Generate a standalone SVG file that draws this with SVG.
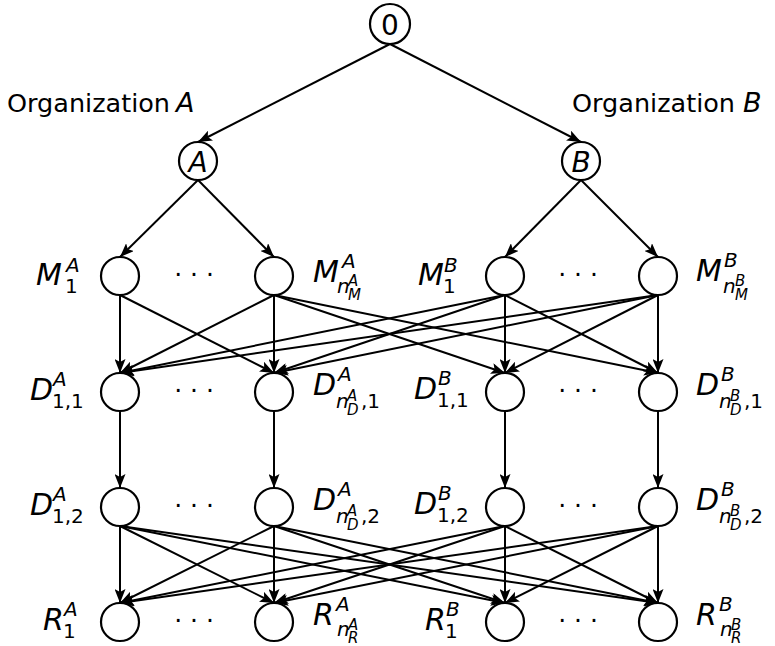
<svg xmlns="http://www.w3.org/2000/svg" width="775" height="646" viewBox="0 0 775 646">
<defs>
<style>
.lab{font-family:"DejaVu Sans","Liberation Sans",sans-serif;fill:#000}
.it{font-style:italic}
.b{font-size:30px}
.s{font-size:20px}
.ss{font-size:15px}
.org{font-size:25.5px}
.dots{font-size:25px;text-anchor:middle}
.nd{fill:#fff;stroke:#000;stroke-width:2.2}
.ed{stroke:#000;stroke-width:2;fill:none;marker-end:url(#ah)}
</style>
<marker id="ah" markerUnits="userSpaceOnUse" viewBox="0 0 14 11" markerWidth="14" markerHeight="11" refX="14" refY="5.5" orient="auto">
<path d="M0,0 L14,5.5 L0,11 L3,5.5 Z" fill="#000"/>
</marker>
</defs>
<rect width="775" height="646" fill="#fff"/>

<g id="connectors">
<line class="ed" x1="390" y1="44" x2="198" y2="142"/>
<line class="ed" x1="390" y1="44" x2="581" y2="142"/>
<line class="ed" x1="198" y1="180" x2="120" y2="257"/>
<line class="ed" x1="198" y1="180" x2="274" y2="257"/>
<line class="ed" x1="581" y1="180" x2="505" y2="257"/>
<line class="ed" x1="581" y1="180" x2="658" y2="257"/>

<line class="ed" x1="120" y1="295" x2="120" y2="373"/>
<line class="ed" x1="120" y1="295" x2="274" y2="373"/>
<line class="ed" x1="274" y1="295" x2="120" y2="373"/>
<line class="ed" x1="274" y1="295" x2="274" y2="373"/>
<line class="ed" x1="274" y1="295" x2="505" y2="373"/>
<line class="ed" x1="274" y1="295" x2="658" y2="373"/>
<line class="ed" x1="505" y1="295" x2="120" y2="373"/>
<line class="ed" x1="505" y1="295" x2="274" y2="373"/>
<line class="ed" x1="505" y1="295" x2="505" y2="373"/>
<line class="ed" x1="505" y1="295" x2="658" y2="373"/>
<line class="ed" x1="658" y1="295" x2="120" y2="373"/>
<line class="ed" x1="658" y1="295" x2="274" y2="373"/>
<line class="ed" x1="658" y1="295" x2="505" y2="373"/>
<line class="ed" x1="658" y1="295" x2="658" y2="373"/>

<line class="ed" x1="120" y1="411" x2="120" y2="488"/>
<line class="ed" x1="274" y1="411" x2="274" y2="488"/>
<line class="ed" x1="505" y1="411" x2="505" y2="488"/>
<line class="ed" x1="658" y1="411" x2="658" y2="488"/>

<line class="ed" x1="120" y1="526" x2="120" y2="603"/>
<line class="ed" x1="120" y1="526" x2="274" y2="603"/>
<line class="ed" x1="120" y1="526" x2="505" y2="603"/>
<line class="ed" x1="120" y1="526" x2="658" y2="603"/>
<line class="ed" x1="274" y1="526" x2="120" y2="603"/>
<line class="ed" x1="274" y1="526" x2="274" y2="603"/>
<line class="ed" x1="274" y1="526" x2="505" y2="603"/>
<line class="ed" x1="274" y1="526" x2="658" y2="603"/>
<line class="ed" x1="505" y1="526" x2="120" y2="603"/>
<line class="ed" x1="505" y1="526" x2="274" y2="603"/>
<line class="ed" x1="505" y1="526" x2="505" y2="603"/>
<line class="ed" x1="505" y1="526" x2="658" y2="603"/>
<line class="ed" x1="658" y1="526" x2="120" y2="603"/>
<line class="ed" x1="658" y1="526" x2="274" y2="603"/>
<line class="ed" x1="658" y1="526" x2="505" y2="603"/>
<line class="ed" x1="658" y1="526" x2="658" y2="603"/>
</g>

<g id="labels">
<text class="lab org" x="7" y="112">Organization <tspan class="it" x="176" style="font-size:27px">A</tspan></text>
<text class="lab org" x="572" y="112">Organization <tspan class="it" x="743" style="font-size:27px">B</tspan></text>
<text class="lab dots" x="194" y="283">· · ·</text>
<text class="lab dots" x="578" y="283">· · ·</text>
<text class="lab dots" x="194" y="399">· · ·</text>
<text class="lab dots" x="578" y="399">· · ·</text>
<text class="lab dots" x="194" y="514">· · ·</text>
<text class="lab dots" x="578" y="514">· · ·</text>
<text class="lab dots" x="194" y="629">· · ·</text>
<text class="lab dots" x="578" y="629">· · ·</text>
</g>

<g id="n0"><circle class="nd" cx="390" cy="24" r="20"/><text class="lab b" x="390" y="35" text-anchor="middle" style="font-size:28px">0</text></g>
<g id="nA"><circle class="nd" cx="198" cy="161" r="19"/><text class="lab b it" x="198" y="172" text-anchor="middle" style="font-size:28px">A</text></g>
<g id="nB"><circle class="nd" cx="581" cy="161" r="19"/><text class="lab b it" x="581" y="172" text-anchor="middle" style="font-size:28px">B</text></g>

<g id="M1A"><circle class="nd" cx="120" cy="276" r="19"/>
<text class="lab"><tspan class="it b" x="36" y="285">M</tspan><tspan class="it s" x="66" y="272">A</tspan><tspan class="s" x="65" y="293">1</tspan></text></g>
<g id="MnA"><circle class="nd" cx="274" cy="276" r="19"/>
<text class="lab"><tspan class="it b" x="313" y="282">M</tspan><tspan class="it s" x="342" y="268">A</tspan><tspan class="it s" x="337" y="293">n</tspan><tspan class="it ss" x="348" y="286">A</tspan><tspan class="it ss" x="348" y="300">M</tspan></text></g>
<g id="M1B"><circle class="nd" cx="505" cy="276" r="19"/>
<text class="lab"><tspan class="it b" x="418" y="285">M</tspan><tspan class="it s" x="444" y="272">B</tspan><tspan class="s" x="443" y="293">1</tspan></text></g>
<g id="MnB"><circle class="nd" cx="658" cy="276" r="19"/>
<text class="lab"><tspan class="it b" x="696" y="281">M</tspan><tspan class="it s" x="724" y="267">B</tspan><tspan class="it s" x="723" y="293">n</tspan><tspan class="it ss" x="735" y="286">B</tspan><tspan class="it ss" x="735" y="300">M</tspan></text></g>

<g id="D11A"><circle class="nd" cx="120" cy="392" r="19"/>
<text class="lab"><tspan class="it b" x="30" y="400">D</tspan><tspan class="it s" x="53" y="386">A</tspan><tspan class="s" x="52" y="408">1,1</tspan></text></g>
<g id="DnA1"><circle class="nd" cx="274" cy="392" r="19"/>
<text class="lab"><tspan class="it b" x="313" y="395">D</tspan><tspan class="it s" x="338" y="381">A</tspan><tspan class="it s" x="336" y="408">n</tspan><tspan class="it ss" x="347" y="401">A</tspan><tspan class="it ss" x="347" y="415">D</tspan><tspan class="s" x="361" y="408">,1</tspan></text></g>
<g id="D11B"><circle class="nd" cx="505" cy="392" r="19"/>
<text class="lab"><tspan class="it b" x="414" y="399">D</tspan><tspan class="it s" x="438" y="385">B</tspan><tspan class="s" x="437" y="407">1,1</tspan></text></g>
<g id="DnB1"><circle class="nd" cx="658" cy="392" r="19"/>
<text class="lab"><tspan class="it b" x="696" y="395">D</tspan><tspan class="it s" x="721" y="381">B</tspan><tspan class="it s" x="719" y="408">n</tspan><tspan class="it ss" x="730" y="401">B</tspan><tspan class="it ss" x="730" y="415">D</tspan><tspan class="s" x="744" y="408">,1</tspan></text></g>

<g id="D12A"><circle class="nd" cx="120" cy="507" r="19"/>
<text class="lab"><tspan class="it b" x="30" y="515">D</tspan><tspan class="it s" x="53" y="501">A</tspan><tspan class="s" x="52" y="523">1,2</tspan></text></g>
<g id="DnA2"><circle class="nd" cx="274" cy="507" r="19"/>
<text class="lab"><tspan class="it b" x="313" y="510">D</tspan><tspan class="it s" x="338" y="496">A</tspan><tspan class="it s" x="336" y="523">n</tspan><tspan class="it ss" x="347" y="516">A</tspan><tspan class="it ss" x="347" y="530">D</tspan><tspan class="s" x="361" y="523">,2</tspan></text></g>
<g id="D12B"><circle class="nd" cx="505" cy="507" r="19"/>
<text class="lab"><tspan class="it b" x="414" y="514">D</tspan><tspan class="it s" x="438" y="500">B</tspan><tspan class="s" x="437" y="522">1,2</tspan></text></g>
<g id="DnB2"><circle class="nd" cx="658" cy="507" r="19"/>
<text class="lab"><tspan class="it b" x="696" y="510">D</tspan><tspan class="it s" x="721" y="496">B</tspan><tspan class="it s" x="719" y="523">n</tspan><tspan class="it ss" x="730" y="516">B</tspan><tspan class="it ss" x="730" y="530">D</tspan><tspan class="s" x="744" y="523">,2</tspan></text></g>

<g id="R1A"><circle class="nd" cx="120" cy="622" r="19"/>
<text class="lab"><tspan class="it b" x="43" y="630">R</tspan><tspan class="it s" x="64" y="616">A</tspan><tspan class="s" x="63" y="638">1</tspan></text></g>
<g id="RnA"><circle class="nd" cx="274" cy="622" r="19"/>
<text class="lab"><tspan class="it b" x="313" y="625">R</tspan><tspan class="it s" x="336" y="611">A</tspan><tspan class="it s" x="337" y="636">n</tspan><tspan class="it ss" x="348" y="630">A</tspan><tspan class="it ss" x="348" y="643">R</tspan></text></g>
<g id="R1B"><circle class="nd" cx="505" cy="622" r="19"/>
<text class="lab"><tspan class="it b" x="425" y="630">R</tspan><tspan class="it s" x="446" y="616">B</tspan><tspan class="s" x="445" y="638">1</tspan></text></g>
<g id="RnB"><circle class="nd" cx="658" cy="622" r="19"/>
<text class="lab"><tspan class="it b" x="696" y="625">R</tspan><tspan class="it s" x="719" y="611">B</tspan><tspan class="it s" x="720" y="636">n</tspan><tspan class="it ss" x="731" y="630">B</tspan><tspan class="it ss" x="731" y="643">R</tspan></text></g>
</svg>
